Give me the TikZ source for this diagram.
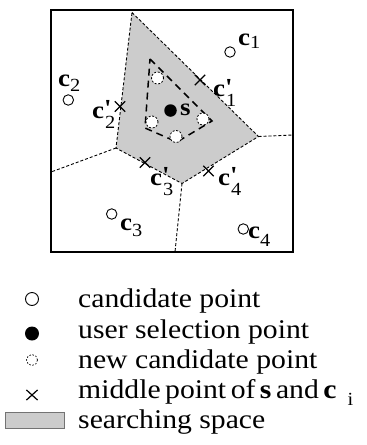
\documentclass[tikz,border=0pt]{standalone}
\usepackage{fontspec}
\setmainfont{Liberation Serif}[FakeStretch=1.1]
\usetikzlibrary{shapes.misc}
\newcommand\subfnt{\fontsize{18.5}{18.5}\selectfont}
\newcommand\csub[2]{{\bfseries c}\raisebox{-#2pt}{\subfnt #1}}
\newcommand\cpsub[1]{{\bfseries c}\rlap{\bfseries\raisebox{1.5pt}{\textquotesingle}}\raisebox{-10pt}{\subfnt\kern1pt #1}}
\begin{document}
\begin{tikzpicture}[x=1pt,y=-1pt,
  cand/.style={circle,draw,line width=0.9pt,minimum size=10.5pt,inner sep=0pt,fill=white},
  sel/.style={circle,fill=black,minimum size=12.5pt,inner sep=0pt},
  newc/.style={circle,draw,dash pattern=on 2pt off 1.6pt,line width=0.8pt,fill=white,minimum size=12pt,inner sep=0pt},
  xmark/.style={cross out,draw,line width=1.4pt,minimum size=9pt,inner sep=0pt},
  vor/.style={dash pattern=on 3pt off 2pt,line width=0.9pt},
  innerpoly/.style={dash pattern=on 7pt off 5pt,line width=1.5pt},
  lbl/.style={inner sep=0pt,anchor=base west,font=\fontsize{24.5}{25}\selectfont},
  leg/.style={inner sep=0pt,anchor=base west,font=\fontsize{27}{30}\selectfont}]
\useasboundingbox (0,0) rectangle (367,445);
% searching space polygon
\coordinate (pt) at (132,12.5);
\coordinate (pr) at (258.5,136.5);
\coordinate (pb) at (182,183.5);
\coordinate (pl) at (116,148);
\coordinate (er) at (293,135);
\coordinate (el) at (51,172);
\coordinate (eb) at (175,252);
\fill[black!20] (pt)--(pr)--(pb)--(pl)--cycle;
\draw[vor] (pt)--(pr)--(pb)--(pl)--cycle;
\draw[vor] (pr)--(er);
\draw[vor] (pl)--(el);
\draw[vor] (pb)--(eb);
\draw[line width=2pt] (51,10) rectangle (293,252);
% inner dashed polygon
\coordinate (q1) at (150,59);
\coordinate (q2) at (212,121);
\coordinate (q3) at (177,142);
\coordinate (q4) at (145,128);
\draw[innerpoly] (q1)--(q2)--(q3)--(q4)--cycle;
% new candidate points
\node[newc] (n1) at (157.5,78) {};
\node[newc] (n2) at (152,122) {};
\node[newc] (n3) at (176,136.5) {};
\node[newc] (n4) at (203,119) {};
% user selection
\node[sel] (s) at (170.5,110.5) {};
\node[lbl] (slbl) at (180,115) {\bfseries s};
% candidates
\node[cand] (c1) at (230,52) {};
\node[cand] (c2) at (68.3,100) {};
\node[cand] (c3) at (111.7,214) {};
\node[cand] (c4) at (243.3,229) {};
\node[lbl] (c1l) at (238,45) {\csub{1}{3}};
\node[lbl] (c2l) at (58,86.7) {\csub{2}{5}};
\node[lbl] (c3l) at (120,230) {\csub{3}{6}};
\node[lbl] (c4l) at (248,238) {\csub{4}{8}};
% midpoints
\node[xmark] (m1) at (200,80) {};
\node[xmark] (m2) at (120,106.5) {};
\node[xmark] (m3) at (145,162.5) {};
\node[xmark] (m4) at (208.5,171) {};
\node[lbl] (m1l) at (213,96.7) {\cpsub{1}};
\node[lbl] (m2l) at (92,118) {\cpsub{2}};
\node[lbl] (m3l) at (150,185) {\cpsub{3}};
\node[lbl] (m4l) at (218,185) {\cpsub{4}};
% legend
\node[circle,draw,line width=0.9pt,minimum size=13pt,inner sep=0pt] (k1) at (32,299) {};
\node[circle,fill=black,minimum size=14pt,inner sep=0pt] (k2) at (32,333.5) {};
\node[circle,draw,dash pattern=on 1.6pt off 1.6pt,line width=0.7pt,minimum size=11pt,inner sep=0pt] (k3) at (32,360) {};
\node[cross out,draw,line width=1.2pt,minimum width=10pt,minimum height=9pt,inner sep=0pt] (k4) at (32,395) {};
\node[draw=black!55,fill=black!20,line width=0.8pt,minimum width=59pt,minimum height=16pt,inner sep=0pt] (k5) at (34.5,420) {};
\node[leg] (t1) at (78,307) {candidate point};
\node[leg] (t2) at (78,338) {user selection point};
\node[leg] (t3) at (78,368) {new candidate point};
\node[leg] (t4) at (78,398) {\spaceskip=4.5pt middle point of \textbf{s} and \textbf{c}\hspace{11pt}\raisebox{-7pt}{\subfnt i}};
\node[leg] (t5) at (78,428) {searching space};
\end{tikzpicture}
\end{document}
